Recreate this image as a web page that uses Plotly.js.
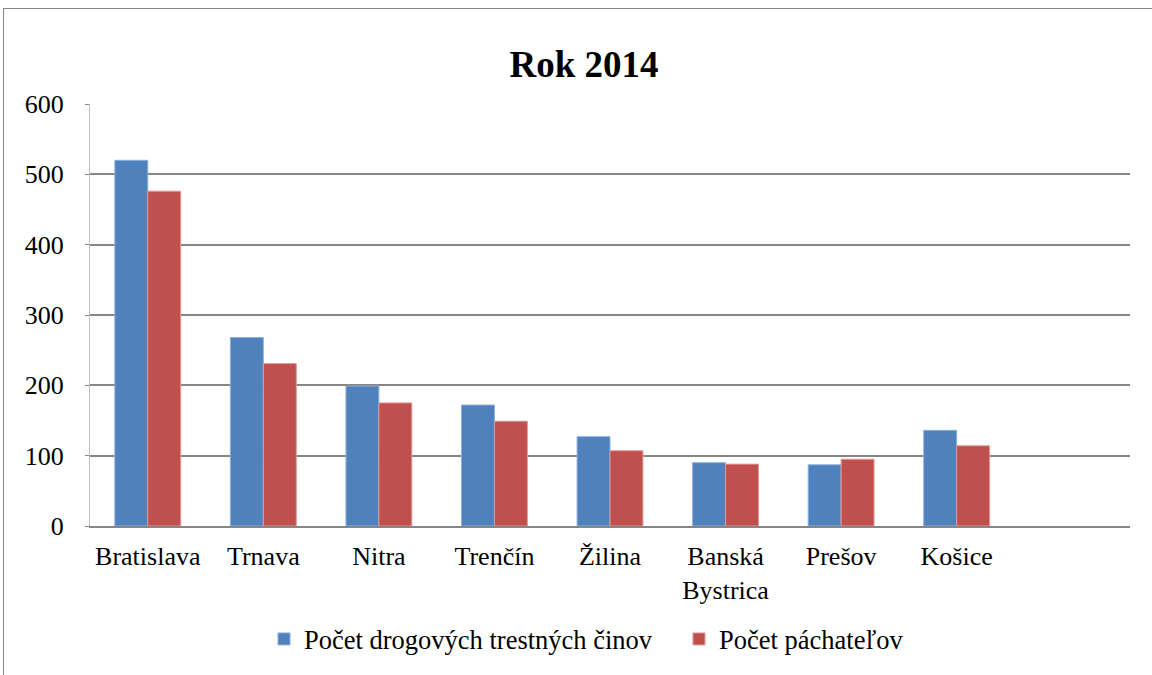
<!DOCTYPE html>
<html>
<head>
<meta charset="utf-8">
<script src="https://cdn.plot.ly/plotly-3.0.1.min.js"></script>
<style>
html,body{margin:0;padding:0;background:#fff;overflow:hidden;}
#wrap{position:relative;width:1152px;height:675px;overflow:hidden;}
#chart{width:1152px;height:675px;}
#frame{position:absolute;left:3px;top:8px;width:1300px;height:1000px;border:1.5px solid #868686;pointer-events:none;}
</style>
</head>
<body>
<div id="wrap"><div id="chart"></div><div id="frame"></div></div>
<script>
const categories = ["Bratislava", "Trnava", "Nitra", "Trenčín", "Žilina", "Banská<br>Bystrica", "Prešov", "Košice"];
const crimes = [520, 268, 199, 172, 127, 90, 87, 136];
const offenders = [476, 231, 175, 149, 107, 88, 95, 114];
const seriesNames = ["Počet drogových trestných činov", "Počet páchateľov"];
const yTicks = [0, 100, 200, 300, 400, 500, 600];

const serif = "Liberation Serif, Times New Roman, serif";

const data = [
  {type: "bar", name: seriesNames[0], x: categories, y: crimes,
   marker: {color: "#4F81BD", line: {color: "#8DB0DC", width: 1}}},
  {type: "bar", name: seriesNames[1], x: categories, y: offenders,
   marker: {color: "#C0504D", line: {color: "#E09A98", width: 1}}}
];

const W = 1152, H = 675, L = 90, R = 22, T = 104, B = 149;

const layout = {
  width: W, height: H,
  margin: {l: L, r: R, t: T, b: B, pad: 0},
  paper_bgcolor: "#fff", plot_bgcolor: "#fff",
  font: {family: serif, color: "#000", size: 26},
  title: {text: "<b>Rok 2014</b>", x: 0.507, xref: "container", xanchor: "center",
          y: 0.925, yref: "container",
          font: {family: serif, size: 37, color: "#000"}},
  barmode: "group",
  bargap: 0.43,
  bargroupgap: 0,
  xaxis: {
    type: "category",
    range: [-0.5, 8.5],
    automargin: false,
    showgrid: false,
    showline: true, linecolor: "#868686", linewidth: 2,
    ticks: "", tickfont: {family: serif, size: 26, color: "#000"},
    ticklabelstandoff: 6,
    fixedrange: true
  },
  yaxis: {
    range: [0, 600],
    automargin: false,
    tickvals: yTicks,
    ticktext: yTicks.map(String),
    showgrid: true, gridcolor: "#868686", gridwidth: 2,
    showline: true, linecolor: "#BFBFBF", linewidth: 1,
    zeroline: false,
    ticks: "outside", ticklen: 4, tickcolor: "#868686",
    tickfont: {family: serif, size: 26, color: "#000"},
    ticklabelstandoff: 16,
    fixedrange: true
  },
  legend: {
    orientation: "h", xref: "container", yref: "container",
    x: 0.5894, xanchor: "center", y: 0.053, yanchor: "middle",
    font: {family: serif, size: 26.5, color: "#000"},
    bgcolor: "rgba(0,0,0,0)",
    entrywidth: 370, entrywidthmode: "pixels",
    itemwidth: 30, traceorder: "normal", tracegroupgap: 0
  }
};

Plotly.newPlot("chart", data, layout, {displayModeBar: false, staticPlot: true});
</script>
</body>
</html>
